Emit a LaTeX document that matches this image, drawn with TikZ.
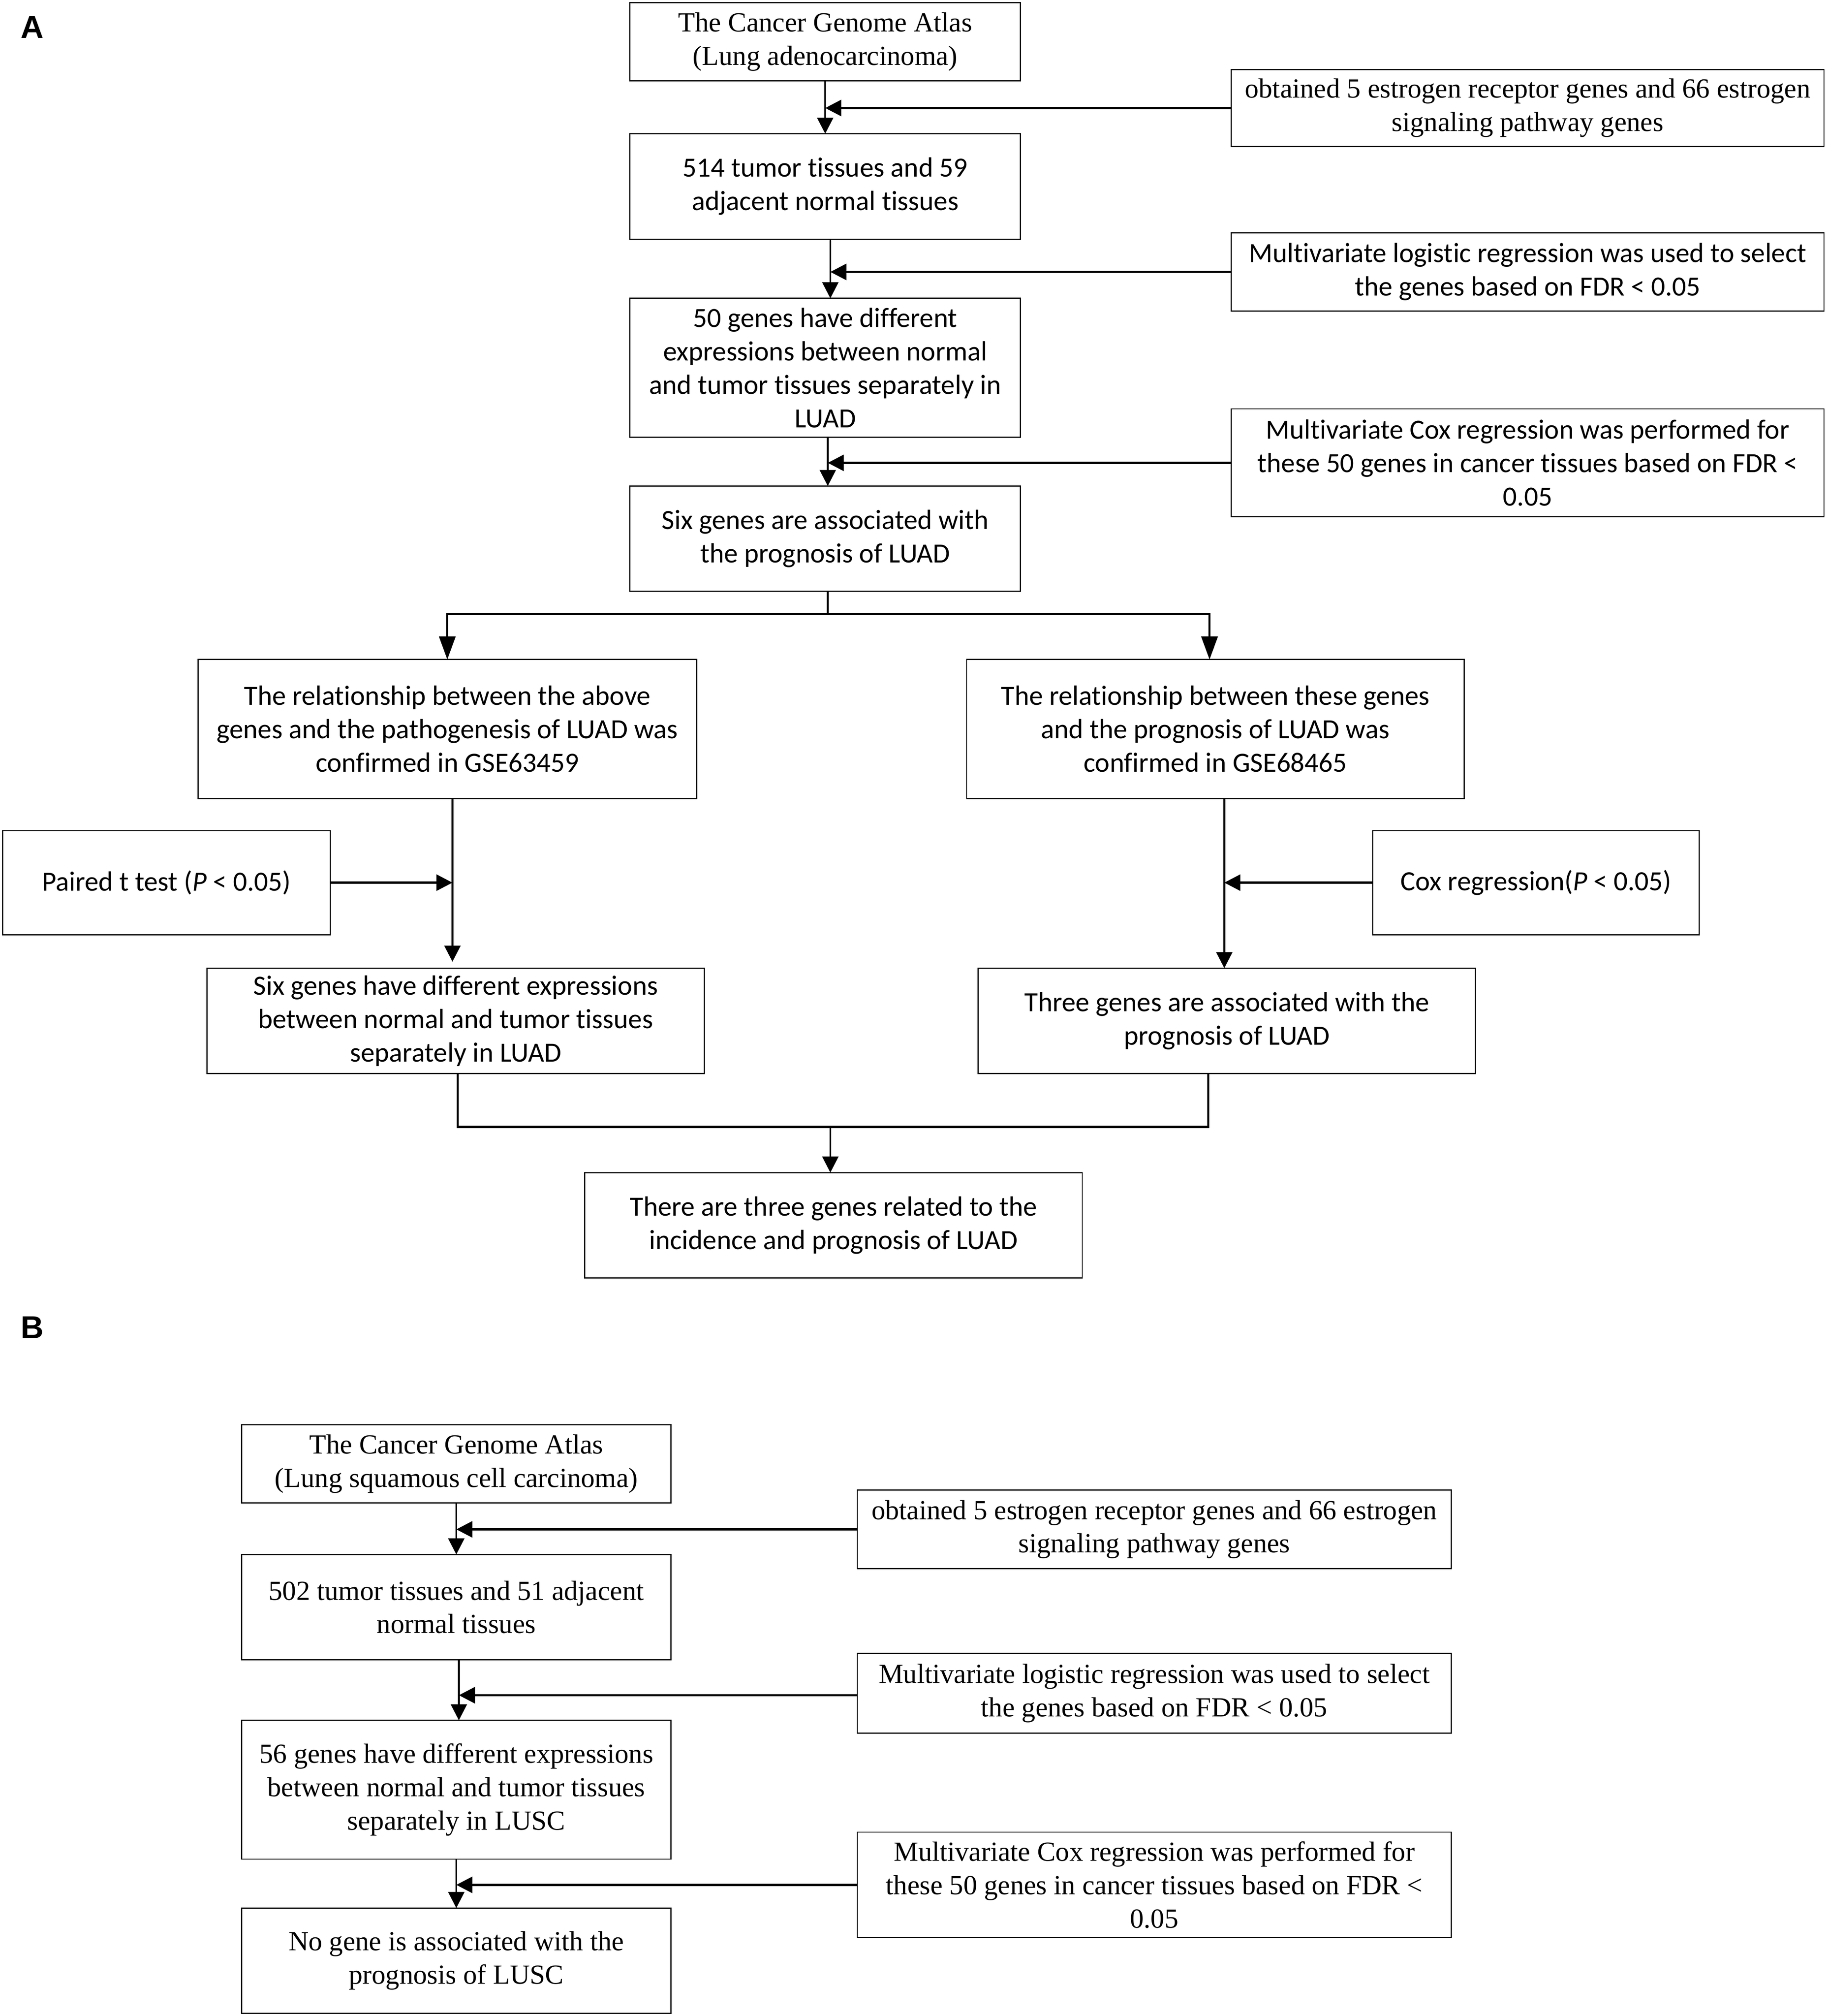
\documentclass[tikz,border=0pt]{standalone}
\usepackage{fontspec}
\setmainfont{Liberation Serif}
\newfontfamily\calibrif[Ligatures=NoCommon]{Carlito}
\newfontfamily\arialf{Liberation Sans}
\usetikzlibrary{arrows.meta}
\begin{document}
\begin{tikzpicture}[x=1pt,y=-1pt,
  box/.style={draw, line width=0.9pt, align=center, inner sep=0pt, outer sep=0pt},
  serif/.style={box, font=\fontsize{21.5}{26}\selectfont},
  sans/.style={box, font=\calibrif\fontsize{21.6}{26}\selectfont},
  link/.style={line width=1.4pt, -{Triangle[width=12.5pt,length=12.5pt]}},
  side/.style={line width=1.8pt, -{Triangle[width=12.5pt,length=12.5pt]}},
  branch/.style={line width=1.6pt, -{Triangle[width=12.7pt,length=18pt]}},
  plainline/.style={line width=1.6pt},
  panel/.style={anchor=base west, inner sep=0pt, font=\arialf\bfseries\fontsize{24.7}{30}\selectfont}
]
\fill[white] (0,0) rectangle (1422,1568);
\useasboundingbox (0,0) rectangle (1422,1568);

% ---------- Panel A ----------
\node[panel] (la) at (16,29.5) {A};

\node[serif, minimum width=304pt, minimum height=61pt] (a1) at (642,32.5) {The Cancer Genome Atlas\\(Lung adenocarcinoma)};
\node[serif, minimum width=461pt, minimum height=60pt] (r1) at (1188.5,84) {obtained 5 estrogen receptor genes and 66 estrogen\\signaling pathway genes};
\node[sans, minimum width=304pt, minimum height=82pt] (a2) at (642,145) {514 tumor tissues and 59\\adjacent normal tissues};
\node[sans, minimum width=461pt, minimum height=61pt] (r2) at (1188.5,211.5) {Multivariate logistic regression was used to select\\the genes based on FDR < 0.05};
\node[sans, minimum width=304pt, minimum height=108pt] (a3) at (642,286) {50 genes have different\\expressions between normal\\and tumor tissues separately in\\LUAD};
\node[sans, minimum width=461pt, minimum height=84pt] (r3) at (1188.5,360) {Multivariate Cox regression was performed for\\these 50 genes in cancer tissues based on FDR <\\0.05};
\node[sans, minimum width=304pt, minimum height=82pt] (a4) at (642,419) {Six genes are associated with\\the prognosis of LUAD};

\node[sans, minimum width=388pt, minimum height=108pt] (l1) at (348,567) {The relationship between the above\\genes and the pathogenesis of LUAD was\\confirmed in GSE63459};
\node[sans, minimum width=387pt, minimum height=108pt] (q1) at (945.5,567) {The relationship between these genes\\and the prognosis of LUAD was\\confirmed in GSE68465};
\node[sans, minimum width=255pt, minimum height=81pt] (pt) at (129.5,686.5) {Paired t test (\textit{P} < 0.05)};
\node[sans, minimum width=254pt, minimum height=81pt] (cx) at (1195,686.5) {Cox regression(\textit{P} < 0.05)};
\node[sans, minimum width=387pt, minimum height=82pt] (l2) at (354.5,794) {Six genes have different expressions\\between normal and tumor tissues\\separately in LUAD};
\node[sans, minimum width=387pt, minimum height=82pt] (q2) at (954.5,794) {Three genes are associated with the\\prognosis of LUAD};
\node[sans, minimum width=387pt, minimum height=82pt] (fa) at (648.5,953) {There are three genes related to the\\incidence and prognosis of LUAD};

% connectors A
\draw[link] (a1.south) -- (a2.north);
\draw[side] (r1.west) -- (r1.west -| a1.south);
\coordinate (c23) at ([xshift=4pt]a2.south);
\draw[link] (c23) -- (c23 |- a3.north);
\draw[side] (r2.west) -- (r2.west -| c23);
\coordinate (c34) at ([xshift=2pt]a3.south);
\draw[link] (c34) -- (c34 |- a4.north);
\draw[side] (r3.west) -- (r3.west -| c34);

\coordinate (c4) at ([xshift=2pt]a4.south);
\coordinate (bl) at (348,477.5);
\coordinate (br) at (941,477.5);
\draw[plainline] (c4) -- (c4 |- bl);
\draw[plainline, line cap=rect] (bl) -- (br);
\draw[branch] (bl) -- (bl |- l1.north);
\draw[branch] (br) -- (br |- q1.north);

\coordinate (lx) at (352,700);
\draw[link, shorten >=5pt] (lx |- l1.south) -- (lx |- l2.north);
\draw[side] (pt.east) -- (pt.east -| lx);
\coordinate (rx) at (952.5,700);
\draw[link] (rx |- q1.south) -- (rx |- q2.north);
\draw[side] (cx.west) -- (cx.west -| rx);

\coordinate (ml) at (356,876.5);
\coordinate (mr) at (940,876.5);
\coordinate (mc) at (646,876.5);
\draw[plainline] (ml |- l2.south) -- (ml) -- (mr) -- (mr |- q2.south);
\draw[link] (mc) -- (mc |- fa.north);

% ---------- Panel B ----------
\node[panel] (lb) at (16,1041) {B};

\node[serif, minimum width=334pt, minimum height=61pt] (b1) at (355,1138.5) {The Cancer Genome Atlas\\(Lung squamous cell carcinoma)};
\node[serif, minimum width=462pt, minimum height=61pt] (s1) at (898,1189.5) {obtained 5 estrogen receptor genes and 66 estrogen\\signaling pathway genes};
\node[serif, minimum width=334pt, minimum height=82pt] (b2) at (355,1250) {502 tumor tissues and 51 adjacent\\normal tissues};
\node[serif, minimum width=462pt, minimum height=62pt] (s2) at (898,1317) {Multivariate logistic regression was used to select\\the genes based on FDR < 0.05};
\node[serif, minimum width=334pt, minimum height=108pt] (b3) at (355,1392) {56 genes have different expressions\\between normal and tumor tissues\\separately in LUSC};
\node[serif, minimum width=462pt, minimum height=82pt] (s3) at (898,1466) {Multivariate Cox regression was performed for\\these 50 genes in cancer tissues based on FDR <\\0.05};
\node[serif, minimum width=334pt, minimum height=82pt] (b4) at (355,1525) {No gene is associated with the\\prognosis of LUSC};

% connectors B
\draw[link] (b1.south) -- (b2.north);
\draw[side] (s1.west) -- (s1.west -| b1.south);
\coordinate (d23) at ([xshift=2pt]b2.south);
\draw[link] (d23) -- (d23 |- b3.north);
\draw[side] ([yshift=-1.5pt]s2.west) -- ([yshift=-1.5pt]s2.west -| d23);
\draw[link] (b3.south) -- (b4.north);
\draw[side] (s3.west) -- (s3.west -| b3.south);
\end{tikzpicture}
\end{document}
